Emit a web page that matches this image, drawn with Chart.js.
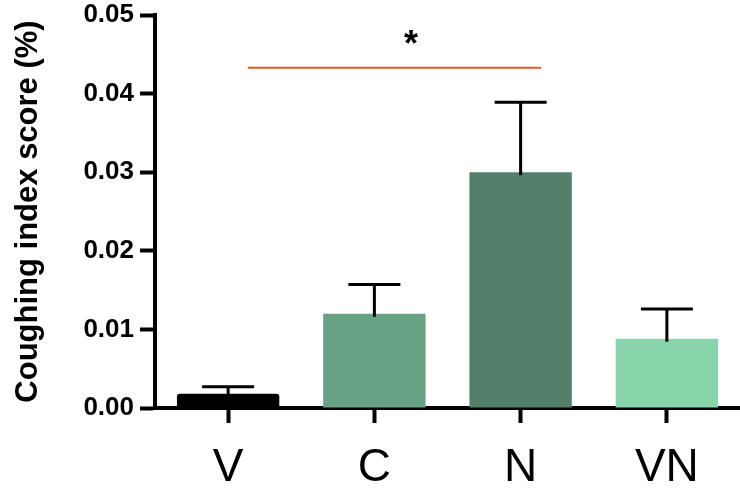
<!DOCTYPE html>
<html>
<head>
<meta charset="utf-8">
<script src="https://cdn.jsdelivr.net/npm/chart.js@4/dist/chart.umd.min.js"></script>
<style>
html,body{margin:0;padding:0;background:#fff;}
#wrap{width:740px;height:490px;position:relative;}
</style>
</head>
<body>
<div id="wrap"><canvas id="c" width="740" height="490"></canvas></div>
<script>
// ---- data ----
const categories = ["V", "C", "N", "VN"];
const means = [0.0018, 0.0120, 0.0300, 0.0088];
const upperErr = [0.0027, 0.0157, 0.0389, 0.0126];
const barColors = ["#000000", "#67a285", "#52806a", "#88d4ab"];
const yTicks = [0, 0.01, 0.02, 0.03, 0.04, 0.05];
const yTitle = "Coughing index score (%)";
const sigFrom = 0.136, sigTo = 2.14, sigLevel = 0.0433;
const sigMark = "*", sigMarkX = 1.25, sigMarkY = 0.0468;

const FONT = "'Liberation Sans', Arial, sans-serif";

const errorBars = {
  id: 'errorBars',
  afterDatasetsDraw(chart) {
    const ctx = chart.ctx;
    const ys = chart.scales.y;
    const meta = chart.getDatasetMeta(0);
    ctx.save();
    ctx.strokeStyle = '#000';
    ctx.lineWidth = 3;
    meta.data.forEach((bar, i) => {
      const x = bar.x;
      const yTop = ys.getPixelForValue(upperErr[i]);
      const yBase = bar.y + 3;
      ctx.beginPath();
      ctx.moveTo(x, yBase);
      ctx.lineTo(x, yTop);
      ctx.moveTo(x - 26, yTop);
      ctx.lineTo(x + 26, yTop);
      ctx.stroke();
    });
    ctx.restore();
  }
};

const sigPlugin = {
  id: 'sig',
  afterDraw(chart) {
    const ctx = chart.ctx;
    const xs = chart.scales.x, ys = chart.scales.y;
    ctx.save();
    ctx.strokeStyle = '#e4592a';
    ctx.lineWidth = 2;
    const y = ys.getPixelForValue(sigLevel);
    ctx.beginPath();
    ctx.moveTo(xs.getPixelForValue(sigFrom), y);
    ctx.lineTo(xs.getPixelForValue(sigTo), y);
    ctx.stroke();
    ctx.fillStyle = '#000';
    ctx.font = "bold 36px " + FONT;
    ctx.textAlign = 'center';
    ctx.textBaseline = 'middle';
    ctx.fillText(sigMark, xs.getPixelForValue(sigMarkX), ys.getPixelForValue(sigMarkY) + 6);
    ctx.restore();
  }
};

new Chart(document.getElementById('c'), {
  type: 'bar',
  data: {
    labels: categories,
    datasets: [{
      data: means,
      backgroundColor: barColors,
      borderWidth: 0,
      borderRadius: [3, 0, 0, 0],
      borderSkipped: 'bottom',
      barPercentage: 0.7,
      categoryPercentage: 1.0
    }]
  },
  options: {
    responsive: false,
    animation: false,
    devicePixelRatio: 1,
    layout: { padding: { top: 15, right: 0, left: 0, bottom: 0 } },
    plugins: { legend: { display: false }, tooltip: { enabled: false } },
    scales: {
      x: {
        grid: { display: true, drawOnChartArea: false, drawTicks: true, tickLength: 15, tickWidth: 4, tickColor: '#000', offset: false },
        border: { display: true, width: 4, color: '#000' },
        ticks: { color: '#000', font: { family: FONT, size: 46 }, padding: 18, maxRotation: 0 },
        afterFit(s) { s.height = 82; s.paddingLeft = 0; s.paddingRight = 0; }
      },
      y: {
        min: 0, max: 0.05,
        afterBuildTicks(s) { s.ticks = yTicks.map(v => ({ value: v })); },
        grid: { display: true, drawOnChartArea: false, drawTicks: true, tickLength: 15, tickWidth: 4, tickColor: '#000' },
        border: { display: true, width: 4, color: '#000' },
        ticks: { color: '#000', font: { family: FONT, size: 26, weight: 'bold' }, padding: 6,
          callback: v => Number(v).toFixed(2) },
        title: { display: true, text: yTitle, color: '#000', font: { family: FONT, size: 31, weight: 'bold' }, padding: { top: 10, bottom: 0 } },
        afterFit(s) { s.width = 155; s.paddingTop = 0; s.paddingBottom = 0; }
      }
    }
  },
  plugins: [errorBars, sigPlugin]
});
</script>
</body>
</html>
